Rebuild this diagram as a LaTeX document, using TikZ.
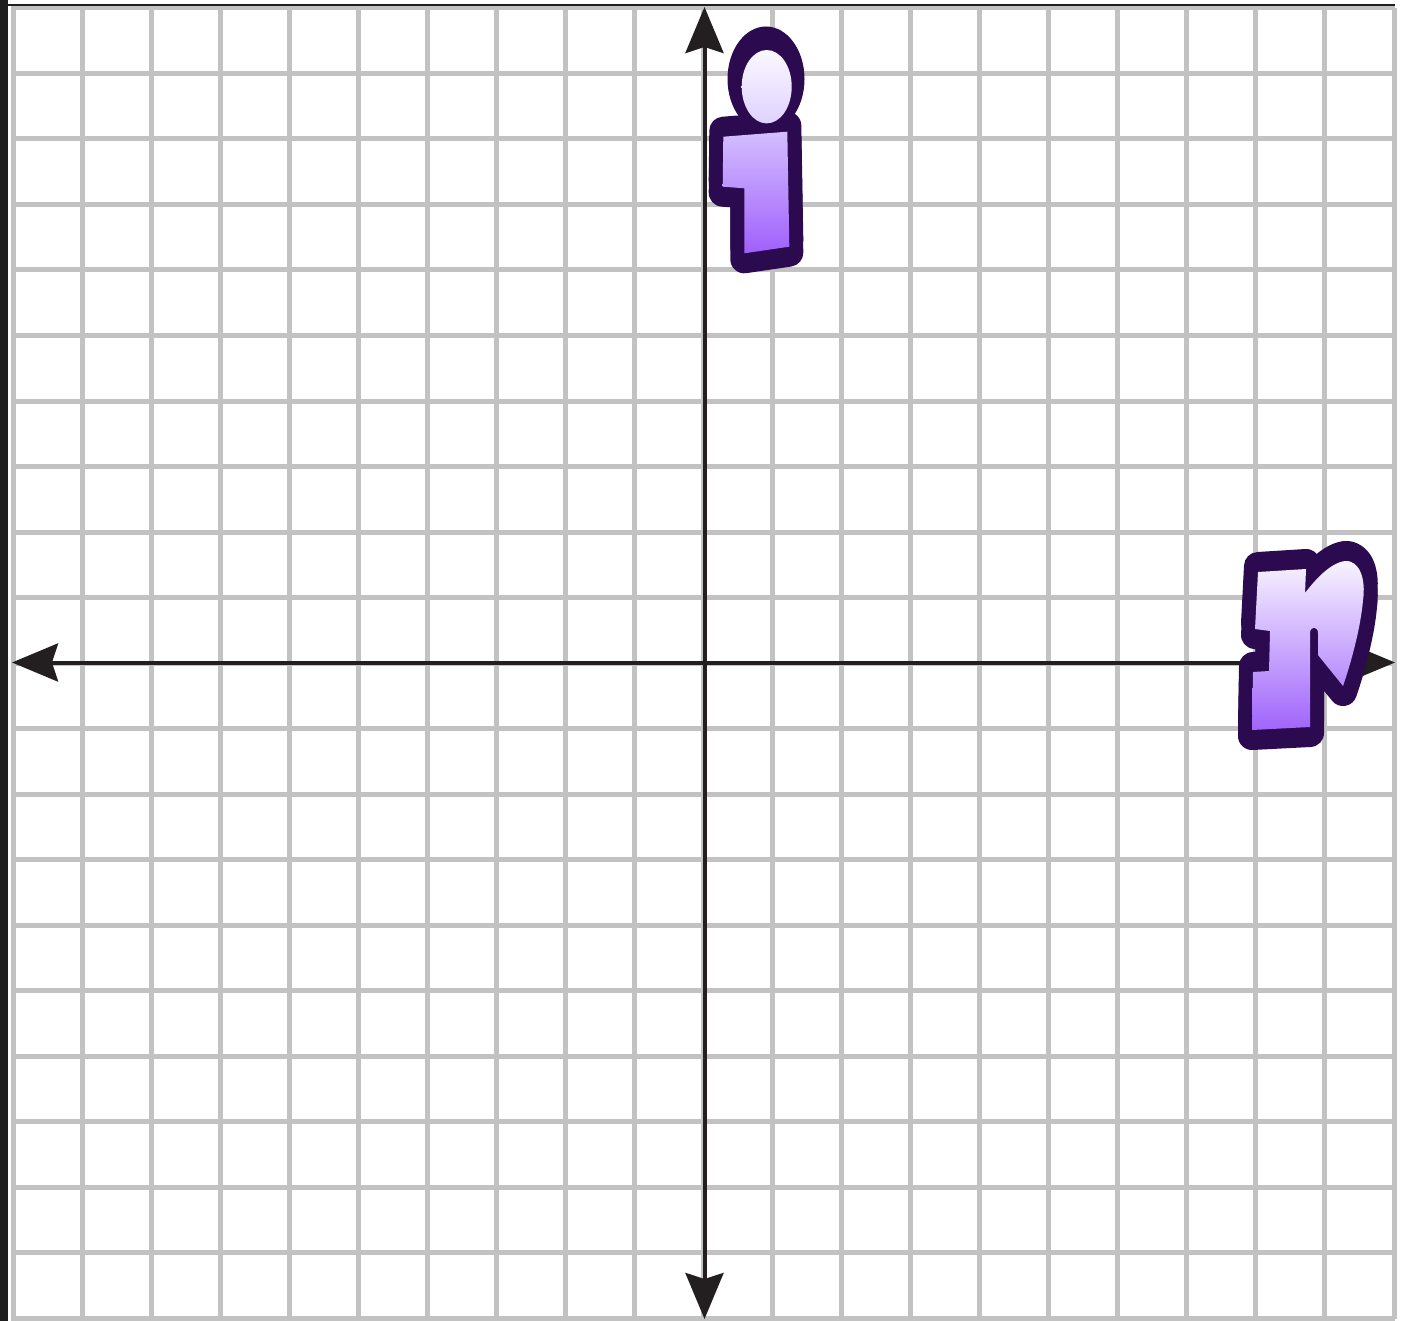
\documentclass[tikz,border=0pt]{standalone}
\usetikzlibrary{arrows.meta}
\definecolor{gridc}{RGB}{194,194,194}
\definecolor{axisc}{RGB}{35,31,32}
\definecolor{framec}{RGB}{30,30,30}
\definecolor{outl}{RGB}{44,10,80}
\definecolor{dottop}{RGB}{250,248,255}
\definecolor{dotbot}{RGB}{224,210,255}
\definecolor{ibtop}{RGB}{212,190,255}
\definecolor{ibbot}{RGB}{160,96,252}
\definecolor{rtop}{RGB}{248,244,255}
\definecolor{rbot}{RGB}{160,100,252}
\newcommand\ibodypath{(723.3,136.7) -- (787.3,131.7) -- (789.3,246.7) -- (744.3,253.3) -- (744.3,188.3) -- (722.7,186.7) -- cycle}
\newcommand\rpath{(1258,572) -- (1306,569) -- (1305,593)
  .. controls (1315,580) and (1330,563) .. (1345,561)
  .. controls (1360,560) and (1366,580) .. (1363,600)
  .. controls (1361,625) and (1352,660) .. (1343,686)
  -- (1318,655) -- (1318,633)
  .. controls (1318,626) and (1310,626) .. (1310,633)
  -- (1310,727) -- (1252,730) -- (1253,672) -- (1269,671) -- (1270,631) -- (1255,629) -- cycle}
\begin{document}
\begin{tikzpicture}[x=1pt,y=-1pt,
  gridline/.style={draw=gridc,line width=5pt},
  axisline/.style={draw=axisc,line width=4pt,
    {Stealth[length=46pt,width=38pt,inset=6pt]}-{Stealth[length=46pt,width=38pt,inset=6pt]}},
  letteroutline/.style={draw=outl,fill=outl,line width=28pt,line join=round,line cap=round},
]
\useasboundingbox (0,0) rectangle (1404,1321);
\fill[white] (0,0) rectangle (1404,1321);
% grid
\foreach \i in {0,...,20} {
  \pgfmathsetmacro\xx{13+69.05*\i}
  \draw[gridline] (\xx,8) -- (\xx,1319);
}
\foreach \j in {0,...,20} {
  \pgfmathsetmacro\yy{8+65.5*\j}
  \draw[gridline] (11,\yy) -- (1395,\yy);
}
% frame
\fill[framec] (0,0) rectangle (8,1321);
\draw[framec,line width=2pt] (0,5) -- (1395,5);
% axes
\coordinate (ytop) at (704.5,7);
\coordinate (ybot) at (704.5,1319);
\coordinate (xleft) at (12,662.5);
\coordinate (xright) at (1395,662.5);
\draw[axisline] (ybot) -- (ytop);
\draw[axisline] (xleft) -- (xright);
% letter i
\fill[outl] (766,79) ellipse [x radius=38.5, y radius=52.5];
\foreach \s in {-6,6} { \draw[letteroutline,yshift=\s] \ibodypath; }
\shade[top color=dottop,bottom color=dotbot] (766.7,86.7) ellipse [x radius=25, y radius=36.7];
\shade[top color=ibtop,bottom color=ibbot] \ibodypath;
% letter r
\foreach \s in {-6,6} { \draw[letteroutline,yshift=\s] \rpath; }
\shade[top color=rtop,bottom color=rbot] \rpath;
\end{tikzpicture}
\end{document}
